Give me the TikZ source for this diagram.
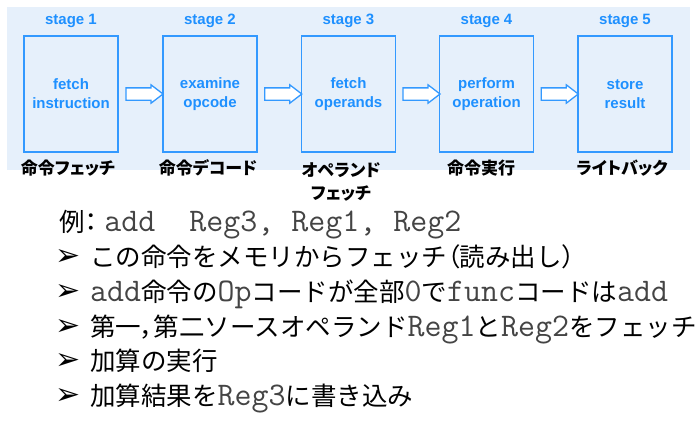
\documentclass[tikz,border=0pt]{standalone}
\usepackage{fontspec}
\setmainfont{Liberation Sans}
\newfontfamily\cjk{Noto Sans CJK JP}
\newfontfamily\cjkp[RawFeature=+palt]{Noto Sans CJK JP}
\newfontfamily\sym{DejaVu Sans}
\usetikzlibrary{shapes.arrows,calc}
\definecolor{bgblue}{HTML}{E6F0FB}
\definecolor{stblue}{HTML}{1E90FF}
\definecolor{bxblue}{HTML}{3399FF}
\definecolor{monogray}{HTML}{444444}
\newcommand{\mtt}[1]{{\ttfamily\fontsize{33}{34}\selectfont\color{monogray}#1}}
\newcommand{\pp}[1]{{\cjkp #1}}
\begin{document}
\begin{tikzpicture}[x=1pt,y=-1pt,
  stagebox/.style={draw=bxblue, line width=1.5pt, fill=bgblue, minimum width=94pt, minimum height=116pt, inner sep=0pt,
    text=stblue, align=center, font=\bfseries\fontsize{15}{19}\selectfont},
  stagelbl/.style={text=stblue, inner sep=0pt, font=\bfseries\fontsize{15}{18}\selectfont},
  jplabel/.style={inner sep=0pt, align=center, font=\cjkp\bfseries\fontsize{17}{23}\selectfont},
  blockarr/.style={single arrow, draw=bxblue, fill=white, line width=1.3pt, minimum height=37pt, minimum width=0pt,
    single arrow head extend=3pt, inner xsep=0pt, inner ysep=5.5pt, single arrow tip angle=75},
  bul/.style={anchor=west, inner sep=0pt, font=\sym\fontsize{30}{32}\selectfont},
  line/.style={anchor=base west, inner sep=0pt, font=\cjk\fontsize{25.5}{30}\selectfont}]
\useasboundingbox (0,0) rectangle (698,445);
\fill[bgblue] (7,7) rectangle (690,170);
% boxes
\node[stagebox] (b1) at (71,94)    {fetch\\instruction};
\node[stagebox] (b2) at (210,94)   {examine\\opcode};
\node[stagebox] (b3) at (348.5,94) {fetch\\operands};
\node[stagebox] (b4) at (486.5,94) {perform\\operation};
\node[stagebox] (b5) at (625,94)   {store\\result};
% stage labels
\node[stagelbl] (s1) at (71,21)    {stage 1};
\node[stagelbl] (s2) at (210,21)   {stage 2};
\node[stagelbl] (s3) at (348.5,21) {stage 3};
\node[stagelbl] (s4) at (486.5,21) {stage 4};
\node[stagelbl] (s5) at (625,21)   {stage 5};
% block arrows
\node[blockarr] (a1) at ($(b1.east)!0.5!(b2.west)$) {};
\node[blockarr] (a2) at ($(b2.east)!0.5!(b3.west)$) {};
\node[blockarr] (a3) at ($(b3.east)!0.5!(b4.west)$) {};
\node[blockarr] (a4) at ($(b4.east)!0.5!(b5.west)$) {};
% japanese labels
\node[jplabel] (j1) at (68,168)  {命令フェッチ};
\node[jplabel] (j2) at (208,168) {命令デコード};
\node[jplabel] (j3) at (341,182) {オペランド\\フェッチ};
\node[jplabel] (j4) at (481,168) {命令実行};
\node[jplabel] (j5) at (622,168) {ライトバック};
% example text
\node[line] (t0) at (59,231.5) {例\pp{：}\hspace{7pt}\mtt{add\ \ Reg3, Reg1, Reg2}};
\node[bul] (u1) at (55,257) {➢};
\node[line] (t1) at (90,266.5) {この命令をメモリからフェッチ\pp{（}読み出し\pp{）}};
\node[bul] (u2) at (55,292) {➢};
\node[line] (t2) at (90,301.5) {\mtt{add}命令の\mtt{Op}コードが全部\mtt{0}で\mtt{func}コードは\mtt{add}};
\node[bul] (u3) at (55,327) {➢};
\node[line] (t3) at (90,336.5) {第一\pp{，}第二ソースオペランド\mtt{Reg1}と\mtt{Reg2}をフェッチ};
\node[bul] (u4) at (55,361) {➢};
\node[line] (t4) at (90,370.5) {加算の実行};
\node[bul] (u5) at (55,396) {➢};
\node[line] (t5) at (90,405.5) {加算結果を\mtt{Reg3}に書き込み};
\end{tikzpicture}
\end{document}
